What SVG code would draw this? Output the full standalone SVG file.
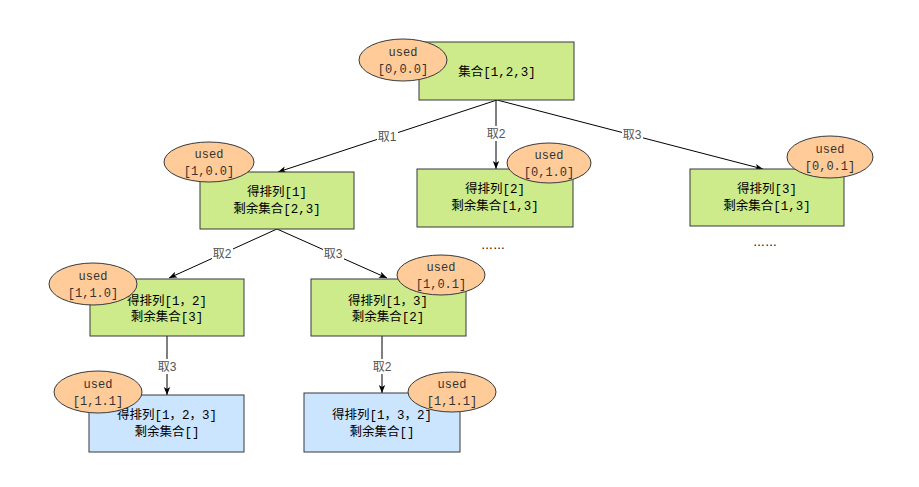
<svg xmlns="http://www.w3.org/2000/svg" width="919" height="487" viewBox="0 0 919 487">
<defs>
<marker id="arr" viewBox="0 0 10 10" refX="10" refY="5" markerWidth="8" markerHeight="8" markerUnits="userSpaceOnUse" orient="auto">
<path d="M0,1 L10,5 L0,9 L2.5,5 Z" fill="#000"/>
</marker>
<style>
.g{fill:#cdeb8b;stroke:#36393d;stroke-width:1}
.b{fill:#cce5ff;stroke:#36393d;stroke-width:1}
.e{fill:#ffcc99;stroke:#36393d;stroke-width:1}
.t{font-family:"Liberation Mono","Noto Sans CJK SC",monospace;font-size:12.5px;fill:#000;text-anchor:middle}
.u{font-family:"Liberation Mono","Noto Sans CJK SC",monospace;font-size:12px;fill:#333;text-anchor:middle}
.l{font-family:"Liberation Sans","Noto Sans CJK SC",sans-serif;font-size:12px;fill:#555;text-anchor:middle}
.c{stroke:#000;stroke-width:1;fill:none;marker-end:url(#arr)}
.bg{fill:#fff}
</style>
</defs>
<rect width="919" height="487" fill="#fff"/>
<g id="connectors">
<line class="c" x1="497" y1="100" x2="278" y2="172"/>
<line class="c" x1="496" y1="100" x2="496" y2="169"/>
<line class="c" x1="497" y1="100" x2="763" y2="169"/>
<line class="c" x1="277" y1="229" x2="169" y2="278"/>
<line class="c" x1="277" y1="229" x2="387" y2="278"/>
<line class="c" x1="167" y1="336" x2="167" y2="395"/>
<line class="c" x1="382" y1="336" x2="382" y2="393"/>
<rect class="bg" x="377" y="129" width="21" height="15"/>
<text class="l" x="387" y="141">取1</text>
<rect class="bg" x="486" y="126" width="21" height="15"/>
<text class="l" x="496" y="138">取2</text>
<rect class="bg" x="622" y="127" width="21" height="15"/>
<text class="l" x="632" y="139">取3</text>
<rect class="bg" x="212" y="246" width="21" height="15"/>
<text class="l" x="222" y="258">取2</text>
<rect class="bg" x="323" y="246" width="21" height="15"/>
<text class="l" x="333" y="258">取3</text>
<rect class="bg" x="157" y="359" width="21" height="15"/>
<text class="l" x="167" y="371">取3</text>
<rect class="bg" x="372" y="359" width="21" height="15"/>
<text class="l" x="382" y="371">取2</text>
</g>
<g id="root">
<rect class="g" x="419" y="42" width="155" height="58"/>
<text class="t" x="497" y="76">集合[1,2,3]</text>
<ellipse class="e" cx="403" cy="60" rx="44" ry="21"/>
<text class="u" x="403" y="56">used</text>
<text class="u" x="403" y="73">[0,0.0]</text>
</g>
<g id="n1">
<rect class="g" x="200" y="172" width="154" height="57"/>
<text class="t" x="277" y="196">得排列[1]</text>
<text class="t" x="277" y="213">剩余集合[2,3]</text>
<ellipse class="e" cx="209" cy="162" rx="45" ry="20"/>
<text class="u" x="209" y="158">used</text>
<text class="u" x="209" y="175">[1,0.0]</text>
</g>
<g id="n2">
<rect class="g" x="417" y="169" width="156" height="58"/>
<text class="t" x="495" y="193">得排列[2]</text>
<text class="t" x="495" y="210">剩余集合[1,3]</text>
<ellipse class="e" cx="549" cy="163" rx="42" ry="20"/>
<text class="u" x="549" y="159">used</text>
<text class="u" x="549" y="176">[0,1.0]</text>
</g>
<g id="n3">
<rect class="g" x="690" y="169" width="154" height="57"/>
<text class="t" x="767" y="193">得排列[3]</text>
<text class="t" x="767" y="210">剩余集合[1,3]</text>
<ellipse class="e" cx="830" cy="157" rx="43" ry="21"/>
<text class="u" x="830" y="153">used</text>
<text class="u" x="830" y="170">[0,0.1]</text>
</g>
<g id="dots">
<text class="l" x="493" y="249" style="fill:#000">……</text>
<text class="l" x="765" y="246" style="fill:#000">……</text>
</g>
<g id="n12">
<rect class="g" x="90" y="279" width="154" height="57"/>
<text class="t" x="167" y="305">得排列[1，2]</text>
<text class="t" x="167" y="321">剩余集合[3]</text>
<ellipse class="e" cx="93" cy="284" rx="44" ry="21"/>
<text class="u" x="93" y="280">used</text>
<text class="u" x="93" y="297">[1,1.0]</text>
</g>
<g id="n13">
<rect class="g" x="311" y="279" width="155" height="57"/>
<text class="t" x="388" y="305">得排列[1，3]</text>
<text class="t" x="388" y="321">剩余集合[2]</text>
<ellipse class="e" cx="441" cy="275" rx="44" ry="20"/>
<text class="u" x="441" y="271">used</text>
<text class="u" x="441" y="288">[1,0.1]</text>
</g>
<g id="n123">
<rect class="b" x="89" y="395" width="155" height="57"/>
<text class="t" x="167" y="419">得排列[1，2，3]</text>
<text class="t" x="167" y="436">剩余集合[]</text>
<ellipse class="e" cx="98" cy="392" rx="44" ry="21"/>
<text class="u" x="98" y="388">used</text>
<text class="u" x="98" y="405">[1,1.1]</text>
</g>
<g id="n132">
<rect class="b" x="304" y="393" width="156" height="59"/>
<text class="t" x="382" y="419">得排列[1，3，2]</text>
<text class="t" x="382" y="436">剩余集合[]</text>
<ellipse class="e" cx="452" cy="392" rx="44" ry="20"/>
<text class="u" x="452" y="388">used</text>
<text class="u" x="452" y="405">[1,1.1]</text>
</g>
</svg>
